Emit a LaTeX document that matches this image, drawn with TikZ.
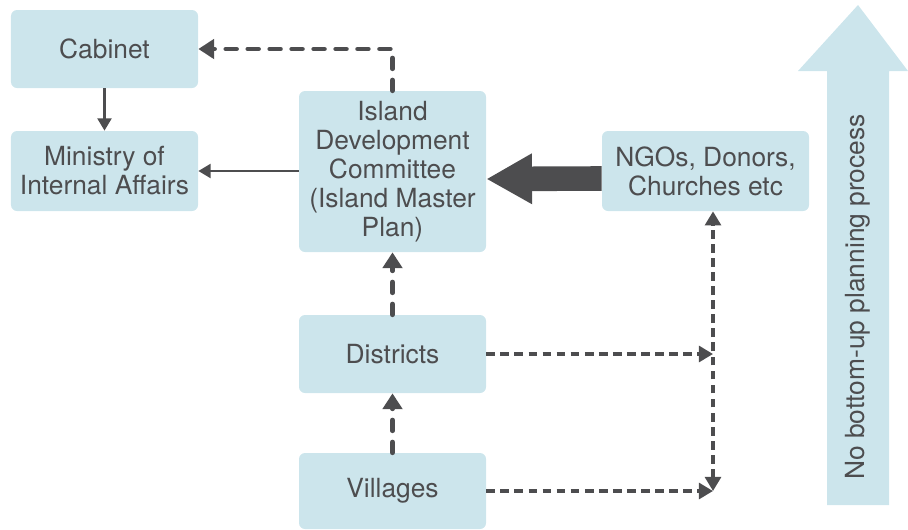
\documentclass[tikz,border=0pt]{standalone}
\usepackage{fontspec}
\setmainfont{TeX Gyre Heros}
\usepackage[rgb]{xcolor}
\usepackage{tikz}
\usetikzlibrary{arrows.meta}

\definecolor{boxblue}{HTML}{CCE5EC}
\definecolor{darkgray}{HTML}{4D4D4F}

\begin{document}
\begin{tikzpicture}[
  box/.style={fill=boxblue, rounded corners=0.12cm, align=center,
    text=darkgray, font=\fontsize{15}{16.5}\selectfont,
    minimum width=3.74cm, minimum height=1.56cm, inner sep=0pt},
  thickdash/.style={darkgray, line width=2.8pt, line cap=round,
    dash pattern=on 6pt off 6.5pt, -{Triangle[length=9pt,width=11pt]}},
  thindash/.style={darkgray, line width=1.9pt,
    dash pattern=on 5pt off 3pt, -{Triangle[length=8pt,width=9pt]}},
  solidarr/.style={darkgray, line width=1.2pt, -{Triangle[length=7pt,width=8pt]}}
]
\useasboundingbox (0,0) rectangle (18.16,10.58);

% big arrow on the right side
\fill[boxblue] (16.54,0.48) -- (16.54,9.16) -- (15.96,9.16) -- (17.16,10.48)
  -- (18.16,9.16) -- (17.78,9.16) -- (17.78,0.48) -- cycle;
\node[rotate=90, text=darkgray, font=\fontsize{15}{16.5}\selectfont]
  (process) at (17.16,4.64) {No bottom-up planning process};

% boxes
\path
(2.09,9.6)  node[box] (cabinet) {Cabinet}
(2.09,7.16) node[box, minimum height=1.6cm] (ministry) {Ministry of\\Internal Affairs}
(7.85,7.15) node[box, minimum height=3.22cm] (idc)
  {Island\\Development\\Committee\\(Island Master\\Plan)}
(14.11,7.16) node[box, minimum width=4.14cm, minimum height=1.6cm] (ngo)
  {NGOs, Donors,\\Churches etc}
(7.85,3.5)  node[box] (districts) {Districts}
(7.85,0.76) node[box, minimum height=1.52cm] (villages) {Villages};

% connectors
\draw[thickdash] (idc.north) |- (cabinet.east);
\draw[solidarr] (cabinet.south) -- (ministry.north);
\draw[solidarr] (idc.west |- ministry.east) -- (ministry.east);
\draw[darkgray, line width=14pt, -{Triangle[length=26pt,width=27pt]}]
  ([yshift=-0.15cm]ngo.west) -- ([yshift=-0.15cm]idc.east);
\draw[thickdash] (districts.north) -- (idc.south);
\draw[thickdash] (villages.north) -- (districts.south);

\coordinate (vb) at (14.26,0.76);
\coordinate (db) at (14.26,3.5);
\draw[thindash] (districts.east) -- (db);
\draw[thindash] (villages.east) -- (vb);
\draw[thindash, {Triangle[length=8pt,width=9pt]}-{Triangle[length=8pt,width=9pt]}]
  (vb) -- (vb |- ngo.south);

\end{tikzpicture}
\end{document}
